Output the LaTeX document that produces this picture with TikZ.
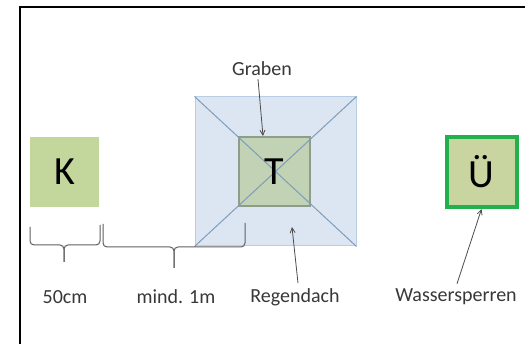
\documentclass[tikz,border=0pt]{standalone}
\usepackage{fontspec}
\setmainfont{Carlito}
\usetikzlibrary{arrows.meta}
\definecolor{kfill}{HTML}{C3D69B}
\definecolor{roof}{HTML}{DCE6F2}
\definecolor{roofline}{HTML}{B9CDE5}
\definecolor{diag}{HTML}{7F9DBA}
\definecolor{tfill}{HTML}{C2D2B4}
\definecolor{tline}{HTML}{8E9C8C}
\definecolor{ufill}{HTML}{C9D5A0}
\definecolor{uline}{HTML}{22B14C}
\definecolor{txt}{HTML}{383838}
\tikzset{
  lbl/.style={text=txt, font=\fontsize{20}{22}\selectfont, inner sep=0pt},
  big/.style={font=\fontsize{40}{44}\selectfont, text=black},
  ptr/.style={draw=txt!90, line width=0.8pt, -{Straight Barb[length=5pt,width=5pt]}},
  brace/.style={draw=txt!80, line width=1pt, rounded corners=4pt},
}
\begin{document}
\begin{tikzpicture}[x=1pt,y=-1pt]
\useasboundingbox (0,0) rectangle (525,344);
\fill[white] (0,0) rectangle (525,344);
% frame
\draw[line width=1.5pt, black] (20,360) -- (20,7) -- (540,7);
% K
\node[big, fill=kfill, minimum width=69pt, minimum height=70pt, inner sep=0pt] (K) at (64.5,172) {K};
% roof
\node[fill=roof, draw=roofline, line width=1pt, minimum width=161pt, minimum height=149pt, inner sep=0pt] (R) at (275.5,171.5) {};
% tent
\node[fill=tfill, draw=tline, line width=2pt, minimum width=71pt, minimum height=69pt, inner sep=0pt] (T) at (274.5,171.5) {};
\draw[diag, line width=1pt] (R.north west) -- (R.south east);
\draw[diag, line width=1pt] (R.north east) -- (R.south west);
\node[big] (Tt) at (T.center) {T};
% U
\node[big, fill=ufill, draw=uline, line width=4pt, minimum width=70pt, minimum height=70pt, inner sep=0pt] (U) at (481.5,172) {Ü};
% labels
\node[lbl] (G) at (262,69) {Graben};
\node[lbl] (c50) at (65,297) {50cm};
\node[lbl] (m1) at (176,297) {mind. 1m};
\node[lbl] (Rg) at (295,297) {Regendach};
\node[lbl] (W) at (456,297) {Wassersperren};
% pointers
\coordinate (gT) at (263,136);
\coordinate (rT) at (292,227);
\draw[ptr] ([xshift=-4pt,yshift=-3pt]G.south) -- (gT);
\draw[ptr] ([xshift=3pt,yshift=5pt]Rg.north) -- (rT);
\draw[ptr] ([xshift=1pt,yshift=5pt]W.north) -- (U.south);
% braces
\coordinate (b1a) at (30,227);
\coordinate (b1b) at (100,225);
\coordinate (b2a) at (103,224);
\coordinate (b2b) at (245,223);
\draw[brace] (b1a) -- (30,245) -- (64,245) -- (64,262);
\draw[brace] (64,262) -- (64,245) -- (100,245) -- (b1b);
\draw[brace] (b2a) -- (103,247) -- (174,247) -- (174,268);
\draw[brace] (174,268) -- (174,247) -- (245,247) -- (b2b);
\end{tikzpicture}
\end{document}
